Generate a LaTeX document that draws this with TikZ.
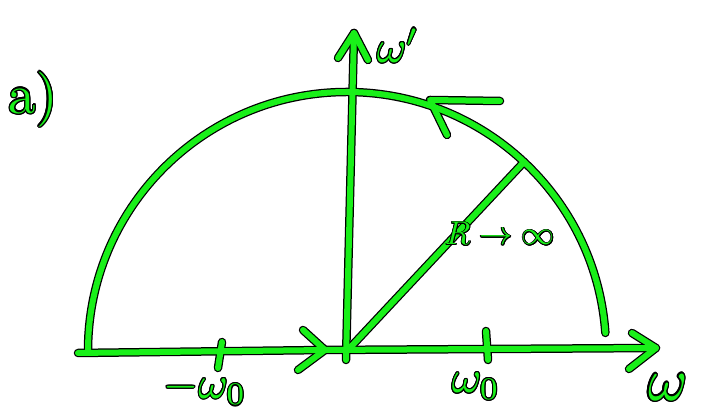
\documentclass[tikz,border=0pt]{standalone}
\usepackage[copies]{contour}
\contourlength{0.25pt}
\definecolor{handgreen}{RGB}{25,240,25}
\begin{document}
\begin{tikzpicture}[x=1pt,y=1pt,line cap=round,line join=round,
		lab/.style={text=handgreen,inner sep=0pt}]
	\useasboundingbox (0,0) rectangle (702,414);
	\coordinate (O) at (347,63);
	\coordinate (xl) at (78,61);
	\coordinate (xr) at (656,66);
	\coordinate (mt) at (325,64);
	\coordinate (yb) at (346,54);
	\coordinate (yt) at (354,381);
	\coordinate (L) at (88,63);
	\coordinate (at) at (430,314);
	\coordinate (P) at (524,252);
	\foreach \c/\w in {black/8.5pt,handgreen/6pt}{
		\draw[draw=\c,line width=\w] (xl) -- (mt) -- (xr);
		\draw[draw=\c,line width=\w] (mt) ++(-22,20) -- (mt) -- ++(-27,-20);
		\draw[draw=\c,line width=\w] (xr) ++(-24,15) -- (xr) -- ++(-27,-21);
		\draw[draw=\c,line width=\w] (yb) -- (yt);
		\draw[draw=\c,line width=\w] (yt) ++(-16,-25) -- (yt) -- ++(14,-27);
		\draw[draw=\c,line width=\w] (L) arc[start angle=180,end angle=4,radius=259];
		\draw[draw=\c,line width=\w] (at) ++(70,-1) -- (at) -- ++(17,-35);
		\draw[draw=\c,line width=\w] (O) -- (P);
		\draw[draw=\c,line width=\w] (222,72) -- (218,46)  (486,83) -- (488,54);
	}
	\node[lab,scale=5.5] (lbla) at (33,314) {\contour{black}{a)}};
	\node[lab,scale=4.5] (lblyy) at (398,368) {\contour{black}{$\omega'$}};
	\node[lab,scale=3.3] (lblR) at (500,180) {\contour{black}{$R\to\infty$}};
	\node[lab,scale=4.5] (lblm) at (205,25) {\contour{black}{$-\omega_0$}};
	\node[lab,scale=4.5] (lblp) at (476,27) {\contour{black}{$\omega_0$}};
	\node[lab,scale=6] (lblx) at (668,26) {\contour{black}{$\omega$}};
\end{tikzpicture}
\end{document}
